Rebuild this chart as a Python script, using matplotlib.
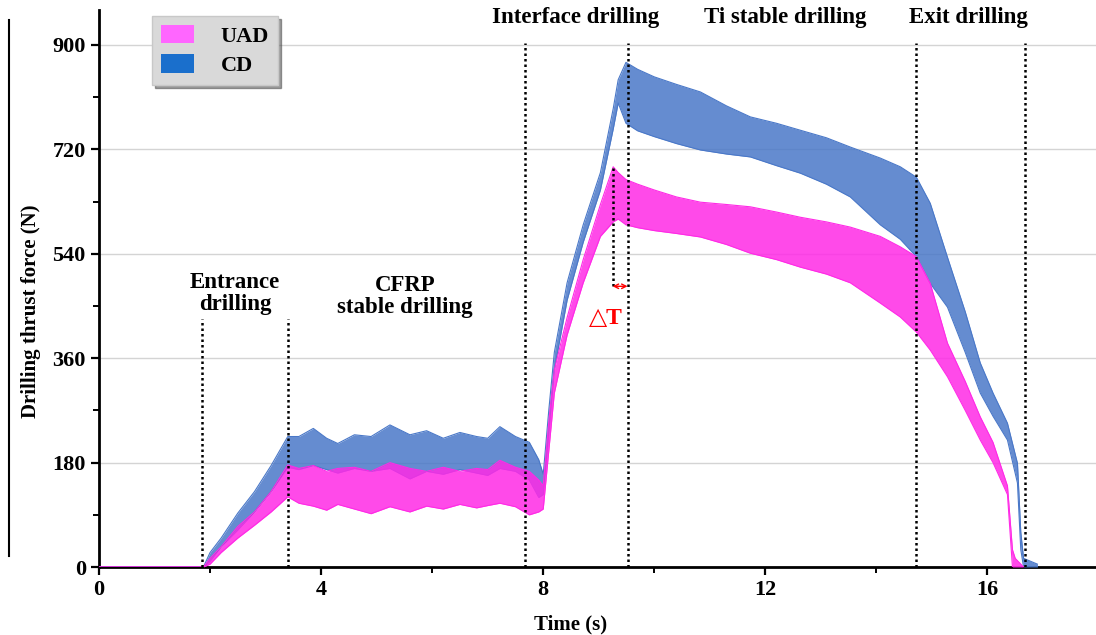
import matplotlib.pyplot as plt
import numpy as np
from matplotlib.patches import Patch
from matplotlib.lines import Line2D

# --- thrust force envelopes (N) vs time (s) ---
t_cd = [0, 1.88, 2.0, 2.2, 2.5, 2.8, 3.1, 3.4, 3.6, 3.86, 4.1, 4.3, 4.6, 4.9, 5.24, 5.6,
        5.9, 6.2, 6.5, 6.8, 7.0, 7.22, 7.5, 7.75, 7.92, 8.0, 8.1, 8.2, 8.43, 8.72, 9.03,
        9.26, 9.35, 9.49, 9.7, 10.0, 10.4, 10.83, 11.3, 11.73, 12.2, 12.63, 13.1, 13.53,
        14.07, 14.43, 14.72, 14.97, 15.28, 15.6, 15.87, 16.1, 16.36, 16.54, 16.6, 16.65, 16.9]
cd_upper = [0, 0, 25, 50, 93, 130, 175, 225, 225, 239, 222, 213, 228, 225, 245, 228,
            235, 222, 232, 225, 222, 242, 225, 215, 185, 160, 270, 370, 490, 590, 680,
            790, 840, 870, 858, 845, 832, 819, 795, 776, 765, 753, 740, 724,
            705, 690, 672, 627, 534, 440, 352, 300, 248, 179, 60, 15, 5]
cd_lower = [0, 0, 10, 35, 64, 95, 130, 172, 168, 175, 168, 162, 170, 165, 170, 152,
            165, 160, 168, 162, 158, 170, 165, 150, 120, 125, 230, 340, 460, 560, 650,
            755, 800, 765, 752, 742, 730, 719, 712, 707, 692, 679, 660, 638,
            590, 565, 535, 489, 448, 370, 300, 260, 219, 145, 30, 0, 0]

t_uad = [0, 1.88, 2.0, 2.2, 2.5, 2.8, 3.1, 3.4, 3.6, 3.86, 4.1, 4.3, 4.6, 4.9, 5.24, 5.6,
         5.9, 6.2, 6.5, 6.8, 7.0, 7.22, 7.5, 7.75, 7.92, 8.0, 8.1, 8.2, 8.43, 8.72, 9.03,
         9.26, 9.35, 9.49, 9.7, 10.0, 10.4, 10.83, 11.3, 11.73, 12.2, 12.63, 13.1, 13.53,
         14.07, 14.43, 14.72, 14.97, 15.28, 15.6, 15.87, 16.1, 16.36, 16.45, 16.5, 16.65]
uad_upper = [0, 0, 15, 35, 70, 95, 130, 176, 170, 175, 165, 170, 172, 165, 180, 170,
             165, 172, 165, 170, 168, 184, 172, 165, 150, 140, 250, 340, 430, 530, 625,
             690, 680, 668, 660, 650, 638, 629, 625, 621, 612, 603, 595, 586,
             570, 552, 535, 489, 386, 320, 259, 215, 140, 30, 15, 0]
uad_lower = [0, 0, 5, 25, 50, 72, 95, 121, 110, 105, 98, 108, 100, 92, 104, 95,
             105, 100, 108, 102, 106, 110, 104, 90, 95, 100, 200, 300, 400, 490, 570,
             595, 600, 590, 585, 580, 575, 569, 556, 541, 530, 517, 505, 490,
             455, 431, 405, 374, 328, 270, 219, 180, 125, 0, 0, 0]

# stage boundaries (s) and the force where each dotted marker starts (N)
stage_x = [1.85, 3.41, 7.67, 9.52, 14.72, 16.67]
stage_top = [428, 428, 903, 903, 903, 903]
stage_labels = ["Entrance\ndrilling", "CFRP\nstable drilling", "Interface drilling",
                "Ti stable drilling", "Exit drilling"]
label_x = [2.45, 5.51, 8.58, 12.36, 15.66]
label_y = [472, 467, 948, 948, 948]

# delay between UAD and CD peak forces
dt_start, dt_end = 9.25, 9.52
dt_top, dt_arrow_y = 688, 484

UAD_COLOR = "#ff2ae6"
CD_COLOR = "#4a78c8"

plt.rcParams['font.family'] = ['Liberation Serif', 'DejaVu Serif']
plt.rcParams['font.weight'] = 'bold'

fig = plt.figure(figsize=(10.96, 6.35), dpi=100)
ax = fig.add_axes([0.0903, 0.107, 0.912, 0.877])

# CD band, then UAD band on top
ax.fill_between(t_cd, cd_lower, cd_upper, color=CD_COLOR, alpha=0.85, lw=0, zorder=3)
ax.plot(t_cd, cd_upper, color=CD_COLOR, lw=0.8, zorder=3)
ax.plot(t_cd, cd_lower, color=CD_COLOR, lw=0.8, zorder=3)
ax.fill_between(t_uad, uad_lower, uad_upper, color=UAD_COLOR, alpha=0.85, lw=0, zorder=4)
ax.plot(t_uad, uad_upper, color=UAD_COLOR, lw=0.8, zorder=4)
ax.plot(t_uad, uad_lower, color=UAD_COLOR, lw=0.8, zorder=4)

# stage dividers
for x, top in zip(stage_x, stage_top):
    ax.plot([x, x], [0, top], color='black', lw=1.8, ls=(0, (1, 1.2)), zorder=5)
for txt, x, y in zip(stage_labels, label_x, label_y):
    ax.text(x, y, txt, ha='center', va='center', fontsize=16.5, fontweight='bold',
            linespacing=1.05, clip_on=False)

# delta T marker
ax.plot([dt_start, dt_start], [dt_arrow_y, dt_top], color='black', lw=1.8,
        ls=(0, (1, 1.2)), zorder=5)
ax.annotate('', xy=(dt_start, dt_arrow_y), xytext=(dt_end, dt_arrow_y),
            arrowprops=dict(arrowstyle='<->', color='red', lw=1.0,
                            shrinkA=0, shrinkB=0, mutation_scale=8), zorder=6)
ax.text(9.12, 429, '△T', color='red', fontsize=17, fontweight='bold',
        ha='center', va='center')

# axes styling
ax.set_xlim(0, 18)
ax.set_ylim(0, 960)
ax.set_xticks([0, 4, 8, 12, 16])
ax.set_xticks([2, 6, 10, 14], minor=True)
ax.set_yticks([0, 180, 360, 540, 720, 900])
ax.set_yticks([90, 270, 450, 630, 810], minor=True)
ax.tick_params(which='major', direction='out', length=6, width=1.6, labelsize=16)
ax.tick_params(which='minor', direction='out', length=4, width=1.4)
for lab in ax.get_xticklabels() + ax.get_yticklabels():
    lab.set_fontweight('bold')
ax.yaxis.grid(True, color='#d4d4d4', lw=1.0)
ax.set_axisbelow(True)
for side in ['top', 'right']:
    ax.spines[side].set_visible(False)
for side in ['left', 'bottom']:
    ax.spines[side].set_linewidth(2)

ax.set_xlabel('Time (s)', fontsize=15, fontweight='bold')
ax.xaxis.set_label_coords(0.472, -0.085)
ax.set_ylabel('Drilling thrust force (N)', fontsize=15, fontweight='bold')
ax.yaxis.set_label_coords(-0.058, 0.46)

handles = [Patch(facecolor='#ff66ff', edgecolor='none', label='UAD'),
           Patch(facecolor='#1a6fcc', edgecolor='none', label='CD')]
leg = ax.legend(handles=handles, loc='upper left', bbox_to_anchor=(0.053, 0.99),
                borderaxespad=0, fontsize=16, frameon=True, fancybox=False, shadow=True,
                facecolor='#d9d9d9', edgecolor='#c8c8c8', framealpha=1,
                handlelength=1.5, handleheight=0.9, handletextpad=1.2,
                borderpad=0.4, labelspacing=0.35)
for t in leg.get_texts():
    t.set_fontweight('bold')

# frame edge on the left margin
fig.add_artist(Line2D([0.008, 0.008], [0.125, 0.968], color='black', lw=1.5))

fig.savefig('out.png', dpi=100)
